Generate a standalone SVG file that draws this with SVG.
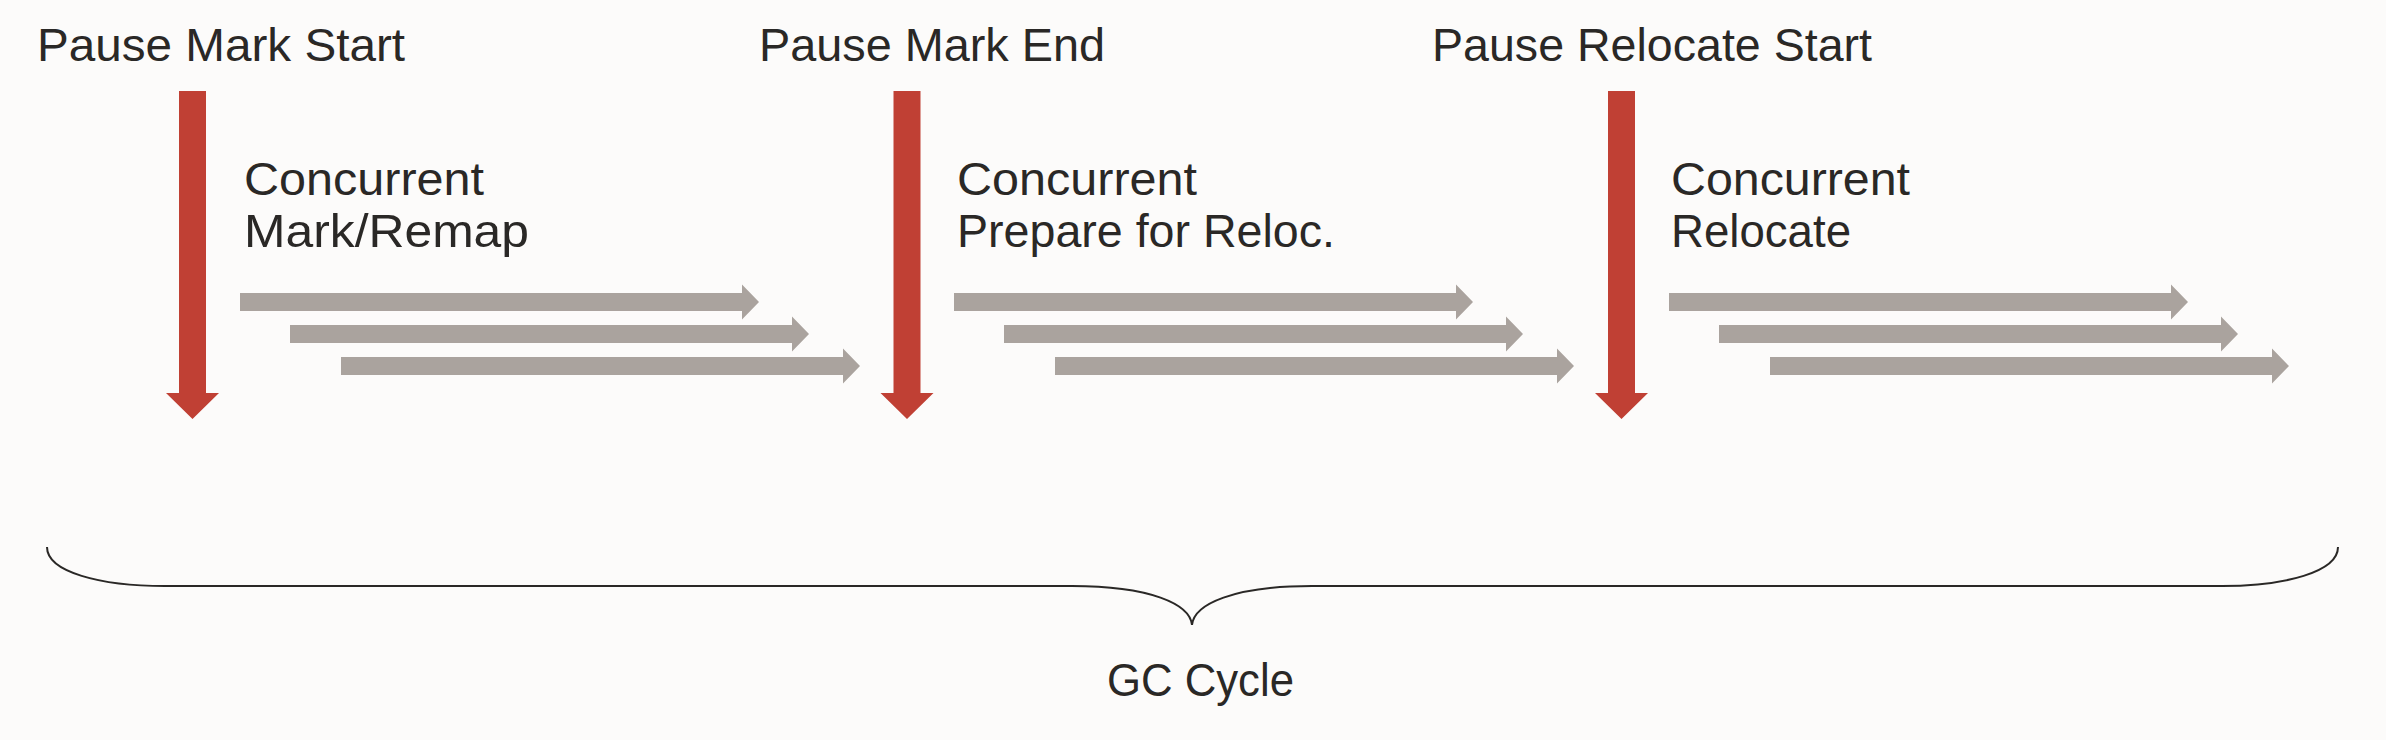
<svg xmlns="http://www.w3.org/2000/svg" width="2386" height="740" viewBox="0 0 2386 740">
  <style>
    .lbl { font-family: "Liberation Sans", Arial, sans-serif; font-size: 47px; fill: #2a2826; }
    .pause { fill: #c04034; }
    .work { fill: #aaa39e; }
    .brace { fill: none; stroke: #2a2826; stroke-width: 2; }
  </style>
  <defs>
    <polygon id="redArrow" points="-13.5,91 13.5,91 13.5,393 26.5,393 0,419 -26.5,393 -13.5,393"/>
    <polygon id="greyArrow" points="0,-9 502,-9 502,-17.5 519,0 502,17.5 502,9 0,9"/>
  </defs>
  <rect x="0" y="0" width="2386" height="740" fill="#fcfbfa"/>

  <g id="pause-mark-start">
    <text class="lbl" x="37" y="61" textLength="368" lengthAdjust="spacingAndGlyphs">Pause Mark Start</text>
    <use href="#redArrow" class="pause" transform="translate(192.5,0)"/>
  </g>
  <g id="pause-mark-end">
    <text class="lbl" x="759" y="61" textLength="346" lengthAdjust="spacingAndGlyphs">Pause Mark End</text>
    <use href="#redArrow" class="pause" transform="translate(907,0)"/>
  </g>
  <g id="pause-relocate-start">
    <text class="lbl" x="1432" y="61" textLength="440" lengthAdjust="spacingAndGlyphs">Pause Relocate Start</text>
    <use href="#redArrow" class="pause" transform="translate(1621.5,0)"/>
  </g>

  <g id="concurrent-mark-remap">
    <text class="lbl" x="244" y="195" textLength="240" lengthAdjust="spacingAndGlyphs">Concurrent</text>
    <text class="lbl" x="244" y="247" textLength="285" lengthAdjust="spacingAndGlyphs">Mark/Remap</text>
  </g>
  <g id="concurrent-prepare">
    <text class="lbl" x="957" y="195" textLength="240" lengthAdjust="spacingAndGlyphs">Concurrent</text>
    <text class="lbl" x="957" y="247" textLength="378" lengthAdjust="spacingAndGlyphs">Prepare for Reloc.</text>
  </g>
  <g id="concurrent-relocate">
    <text class="lbl" x="1671" y="195" textLength="239" lengthAdjust="spacingAndGlyphs">Concurrent</text>
    <text class="lbl" x="1671" y="247" textLength="180" lengthAdjust="spacingAndGlyphs">Relocate</text>
  </g>

  <g id="connectors" class="work">
    <use href="#greyArrow" transform="translate(240,302)"/>
    <use href="#greyArrow" transform="translate(290,334)"/>
    <use href="#greyArrow" transform="translate(341,366)"/>
    <use href="#greyArrow" transform="translate(954,302)"/>
    <use href="#greyArrow" transform="translate(1004,334)"/>
    <use href="#greyArrow" transform="translate(1055,366)"/>
    <use href="#greyArrow" transform="translate(1669,302)"/>
    <use href="#greyArrow" transform="translate(1719,334)"/>
    <use href="#greyArrow" transform="translate(1770,366)"/>
  </g>

  <g id="gc-cycle">
    <path class="brace" d="M47,547 C47,572 100,586 165,586 L1072,586 C1150,586 1190,604 1192,625 C1194,604 1234,586 1312,586 L2222,586 C2285,586 2338,572 2338,547"/>
    <text class="lbl" x="1107" y="696" textLength="187" lengthAdjust="spacingAndGlyphs">GC Cycle</text>
  </g>
</svg>
